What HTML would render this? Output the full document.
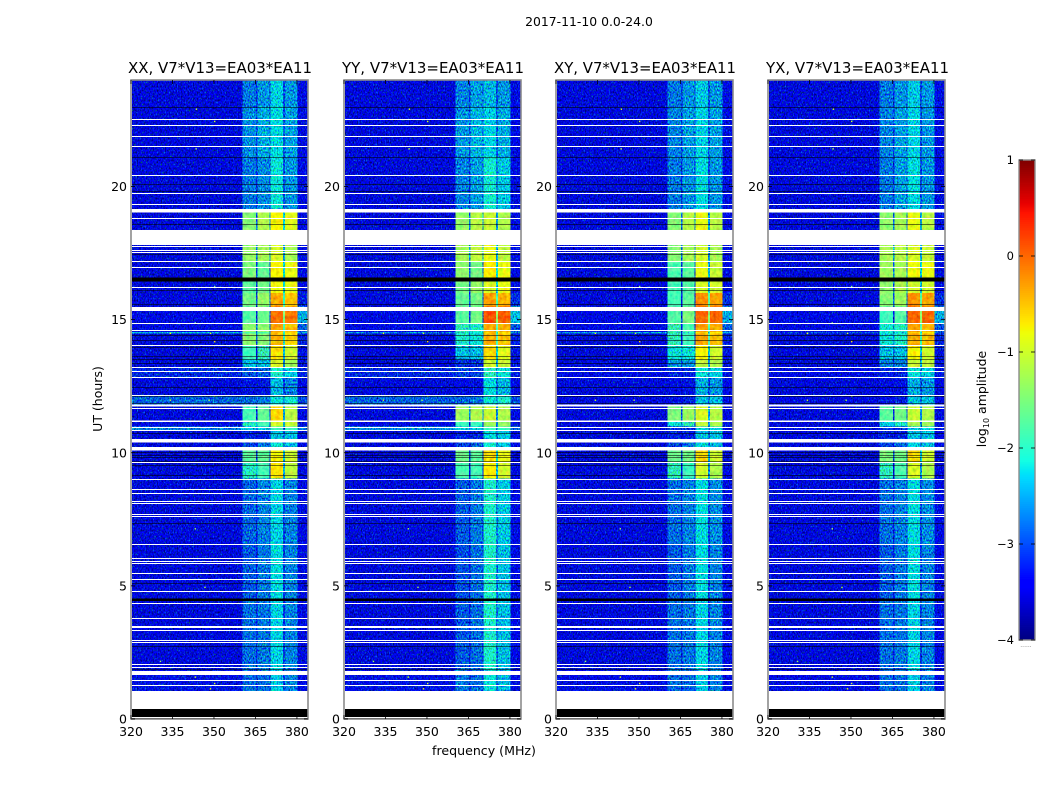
<!DOCTYPE html>
<html lang="en">
<head>
<meta charset="utf-8">
<title>2017-11-10 waterfall</title>
<style>
html,body{margin:0;padding:0;background:#fff;width:1050px;height:800px;overflow:hidden}
svg{display:block}
text{font-family:"DejaVu Sans","Liberation Sans",sans-serif;fill:#000}
</style>
</head>
<body>
<svg id="figure" width="1050" height="800" viewBox="0 0 1050 800" xmlns="http://www.w3.org/2000/svg">
  <defs>
    <filter id="speckle" x="0" y="0" width="100%" height="100%" color-interpolation-filters="sRGB">
      <feTurbulence type="fractalNoise" baseFrequency="0.75 0.5" numOctaves="2" seed="7" result="n"/>
      <feColorMatrix in="n" type="matrix" values="0 0 0 0 0.5  1 0 0 0 -0.03  0 1 0 0 -0.06  0 0 0 0 1" result="m"/>
      <feComposite in="SourceGraphic" in2="m" operator="arithmetic" k1="0" k2="1" k3="1.6" k4="-0.8" result="c"/>
      <feComposite in="c" in2="SourceAlpha" operator="in"/>
    </filter>
    <filter id="speckle-soft" x="0" y="0" width="100%" height="100%" color-interpolation-filters="sRGB">
      <feTurbulence type="fractalNoise" baseFrequency="0.3 0.25" numOctaves="2" seed="3" result="n"/>
      <feColorMatrix in="n" type="matrix" values="1 0 0 0 0  0 1 0 0 0  0 0 0 0 0.5  0 0 0 0 1" result="m"/>
      <feComposite in="SourceGraphic" in2="m" operator="arithmetic" k1="0" k2="1" k3="0.5" k4="-0.25" result="c"/>
      <feComposite in="c" in2="SourceAlpha" operator="in"/>
    </filter>
  </defs>
  <text x="589" y="26" font-size="12.4" text-anchor="middle">2017-11-10 0.0-24.0</text>
  <text x="484" y="755" font-size="12.6" text-anchor="middle">frequency (MHz)</text>
  <text x="0" y="0" font-size="12.5" text-anchor="middle" transform="translate(102 399) rotate(-90)">UT (hours)</text>
  <text x="0" y="0" font-size="12.5" text-anchor="middle" transform="translate(986 399) rotate(-90)">log<tspan font-size="8" dy="3">10</tspan><tspan dy="-3"> amplitude</tspan></text>
  <g id="panels"></g>
  <g id="colorbar"></g>
</svg>
<script>
// ---- chart data ----
const panelTitles = ["XX, V7*V13=EA03*EA11", "YY, V7*V13=EA03*EA11", "XY, V7*V13=EA03*EA11", "YX, V7*V13=EA03*EA11"];
const xTicks = [320, 335, 350, 365, 380];
const yTicks = [0, 5, 10, 15, 20];
const colorbarTicks = [-4, -3, -2, -1, 0, 1];
const colorbarLabels = ["\u22124", "\u22123", "\u22122", "\u22121", "0", "1"];
// frequency zones (MHz): bg, band1, gap, band2, gap, band3, gap, band4, tail
const freqEdges = [320.3, 360.4, 365.2, 365.7, 370, 370.5, 375, 375.6, 380.2, 384];
// time segments (UT hours), descending
const timeEdges = [24, 22.97, 21.10, 19.15, 18.37, 17.21, 16.5, 16.0, 15.5, 14.86, 14.53, 14.47, 14.03, 13.5, 13.2, 12.85, 12.13, 11.82, 11.22, 10.98, 10.85, 10.52, 10.08, 9.64, 9.03, 6.56, 4.5, 1.89, 1.06, 0];
// log10 amplitude per time segment: [background, band1, band2, band3, band4, tail]
const levelsXX = [
[-3.5,-2.75,-2.6,-2.3,-2.6,-3.35],[-3.5,-2.65,-2.5,-2.25,-2.55,-3.35],[-3.5,-2.75,-2.65,-2.2,-2.6,-3.35],
[-3.5,-1.45,-1.2,-0.75,-0.9,-3.35],[-3.5,-1.35,-1.25,-0.95,-1.25,-3.35],[-3.5,-1.5,-1.65,-0.75,-0.85,-3.35],
[-3.5,-1.7,-1.55,-0.8,-0.85,-3.35],[-3.5,-1.55,-1.35,-0.35,-0.5,-3.2],[-3.4,-1.75,-1.6,-0.05,-0.1,-2.5],
[-3.4,-1.4,-1.4,-0.3,-0.45,-2.9],[-2.5,-1.8,-1.8,-0.5,-0.6,-2.6],[-3.5,-1.4,-1.45,-0.4,-0.6,-3.2],
[-3.5,-1.9,-1.95,-0.65,-1.0,-3.3],[-3.5,-2.4,-2.4,-0.95,-1.25,-3.3],[-3.15,-2.9,-2.9,-2.1,-2.3,-3.2],
[-3.5,-3.3,-3.25,-2.45,-2.7,-3.4],[-2.85,-2.8,-2.7,-2.2,-2.15,-2.95],[-3.5,-1.85,-1.65,-0.6,-1.15,-3.4],
[-3.45,-2.05,-1.85,-1.0,-1.05,-3.3],[-2.7,-2.4,-2.4,-1.9,-1.9,-2.8],[-3.5,-3.2,-3.2,-2.4,-2.4,-3.4],
[-3.5,-3.0,-2.75,-2.2,-2.4,-3.4],[-3.5,-1.7,-1.65,-0.75,-1.0,-3.4],[-3.5,-2.05,-1.85,-0.65,-1.1,-3.4],
[-3.5,-2.85,-2.7,-2.3,-2.7,-3.45],[-3.5,-2.9,-2.75,-2.25,-2.7,-3.45],[-3.5,-2.8,-2.75,-2.3,-2.7,-3.45],
[-3.3,-2.8,-2.8,-2.35,-2.7,-3.4],[-3.5,-2.8,-2.8,-2.35,-2.7,-3.4]];
const levelsYY = [
[-3.5,-2.7,-2.55,-2.45,-2.6,-3.4],[-3.5,-2.6,-2.45,-2.3,-2.5,-3.4],[-3.5,-2.7,-2.55,-2.15,-2.35,-3.35],
[-3.5,-1.35,-1.15,-1.05,-1.2,-3.35],[-3.5,-1.25,-1.1,-0.85,-1.1,-3.35],[-3.5,-1.4,-1.55,-0.7,-0.85,-3.35],
[-3.5,-1.55,-1.35,-0.95,-0.85,-3.35],[-3.5,-1.65,-1.55,-0.3,-0.4,-3.1],[-3.4,-1.7,-1.55,0.1,0.05,-2.4],
[-3.4,-2.0,-2.1,-0.35,-0.4,-2.9],[-2.7,-2.1,-2.2,-0.5,-0.6,-2.8],[-3.5,-2.1,-2.2,-0.4,-0.5,-3.2],
[-3.5,-2.4,-2.4,-0.6,-0.9,-3.3],[-3.5,-3.1,-3.1,-1.0,-1.05,-3.3],[-3.15,-3.0,-3.0,-2.0,-2.2,-3.2],
[-3.5,-3.35,-3.3,-2.25,-2.45,-3.4],[-2.85,-2.85,-2.75,-2.2,-2.1,-2.95],[-3.5,-1.3,-1.2,-1.05,-1.2,-3.4],
[-3.45,-1.9,-1.9,-1.3,-1.35,-3.3],[-2.65,-2.4,-2.4,-1.9,-1.9,-2.8],[-3.5,-3.2,-3.2,-2.25,-2.35,-3.4],
[-3.5,-3.0,-2.85,-2.15,-2.35,-3.4],[-3.5,-1.6,-1.7,-0.65,-0.85,-3.4],[-3.5,-1.8,-1.85,-0.7,-1.0,-3.4],
[-3.5,-2.9,-2.75,-2.1,-2.35,-3.45],[-3.5,-2.95,-2.8,-2.1,-2.4,-3.45],[-3.5,-2.9,-2.8,-2.1,-2.4,-3.45],
[-3.3,-2.75,-2.8,-2.2,-2.45,-3.4],[-3.5,-2.8,-2.8,-2.25,-2.45,-3.4]];
const levelsXY = [
[-3.5,-2.75,-2.6,-2.35,-2.6,-3.35],[-3.5,-2.7,-2.55,-2.3,-2.55,-3.35],[-3.5,-2.75,-2.6,-2.25,-2.6,-3.35],
[-3.5,-1.45,-1.15,-0.85,-1.15,-3.35],[-3.5,-1.45,-1.25,-1.0,-1.25,-3.35],[-3.5,-1.8,-1.7,-0.85,-1.05,-3.35],
[-3.5,-1.85,-1.75,-0.95,-1.0,-3.35],[-3.5,-1.85,-1.7,-0.2,-0.3,-3.1],[-3.4,-1.75,-1.5,0.0,0.0,-2.5],
[-3.4,-1.95,-1.8,-0.3,-0.4,-2.9],[-2.6,-2.0,-2.0,-0.6,-0.7,-2.6],[-3.5,-2.0,-1.9,-0.35,-0.45,-3.2],
[-3.5,-2.2,-2.2,-0.75,-1.0,-3.3],[-3.5,-2.6,-2.6,-1.1,-1.2,-3.3],[-3.4,-3.2,-3.2,-2.2,-2.3,-3.3],
[-3.5,-3.35,-3.3,-2.5,-2.6,-3.4],[-3.45,-3.3,-3.2,-2.4,-2.4,-3.4],[-3.5,-1.5,-1.3,-0.95,-1.15,-3.4],
[-3.5,-2.2,-2.0,-1.1,-1.2,-3.3],[-3.4,-3.1,-3.1,-2.3,-2.3,-3.3],[-3.5,-3.2,-3.2,-2.4,-2.4,-3.4],
[-3.5,-3.0,-2.75,-2.25,-2.45,-3.4],[-3.5,-1.6,-1.55,-0.6,-1.0,-3.4],[-3.5,-2.0,-1.9,-1.0,-1.2,-3.4],
[-3.5,-2.8,-2.7,-2.25,-2.65,-3.45],[-3.5,-2.9,-2.75,-2.25,-2.7,-3.45],[-3.5,-2.8,-2.75,-2.3,-2.7,-3.45],
[-3.35,-2.8,-2.8,-2.35,-2.7,-3.4],[-3.5,-2.8,-2.8,-2.35,-2.7,-3.4]];
const levelsYX = [
[-3.5,-2.75,-2.6,-2.35,-2.6,-3.35],[-3.5,-2.7,-2.55,-2.3,-2.6,-3.35],[-3.5,-2.75,-2.55,-2.25,-2.6,-3.35],
[-3.5,-1.4,-1.25,-0.85,-1.15,-3.35],[-3.5,-1.25,-1.15,-0.95,-1.05,-3.35],[-3.5,-1.3,-1.25,-0.8,-0.85,-3.35],
[-3.5,-1.4,-1.2,-1.0,-1.0,-3.35],[-3.5,-1.45,-1.3,-0.2,-0.3,-3.1],[-3.4,-1.9,-1.75,0.0,0.0,-2.5],
[-3.4,-2.15,-2.05,-0.3,-0.4,-2.9],[-3.0,-2.2,-2.2,-0.6,-0.7,-2.9],[-3.5,-2.2,-2.1,-0.35,-0.45,-3.2],
[-3.5,-2.4,-2.4,-0.75,-1.0,-3.3],[-3.5,-2.7,-2.7,-1.05,-1.1,-3.3],[-3.4,-3.2,-3.2,-2.2,-2.3,-3.3],
[-3.5,-3.35,-3.3,-2.5,-2.6,-3.4],[-3.45,-3.3,-3.2,-2.4,-2.4,-3.4],[-3.5,-1.7,-1.55,-1.05,-1.2,-3.4],
[-3.5,-2.3,-2.1,-1.25,-1.3,-3.3],[-3.4,-3.1,-3.1,-2.3,-2.3,-3.3],[-3.5,-3.2,-3.2,-2.4,-2.4,-3.4],
[-3.5,-3.0,-2.8,-2.3,-2.45,-3.4],[-3.5,-1.5,-1.55,-0.6,-1.0,-3.4],[-3.5,-2.0,-1.8,-0.95,-1.2,-3.4],
[-3.5,-2.8,-2.7,-2.25,-2.65,-3.45],[-3.5,-2.9,-2.75,-2.25,-2.7,-3.45],[-3.5,-2.8,-2.75,-2.3,-2.7,-3.45],
[-3.35,-2.8,-2.8,-2.35,-2.7,-3.4],[-3.5,-2.8,-2.8,-2.35,-2.7,-3.4]];
const panelLevels = [levelsXX, levelsYY, levelsXY, levelsYX];
// isolated bright samples: frequency (MHz), UT (hours)
const hotFreqs = [343.4, 350, 343.3, 350, 334, 348.5, 350, 343, 350, 334, 348, 343, 346.5, 330.4, 343, 350, 348.5];
const hotTimes = [22.93, 22.47, 21.44, 16.27, 14.51, 14.51, 14.2, 14.9, 12.15, 12.0, 12.0, 7.17, 4.97, 2.19, 1.6, 1.36, 1.16];
const hotLevels = [-1.0, -1.0, -1.2, -1.5, -0.8, -1.0, -0.6, -1.5, -1.0, -1.0, -1.2, -1.3, -1.2, -1.3, -1.0, -1.0, -0.8];
// flagged (blank) integrations, UT hours
const blankLines = [22.54, 22.30, 21.91, 21.53, 20.42, 19.74, 19.35, 18.83, 17.77, 17.63, 17.53, 17.21, 16.99, 16.24, 14.86, 14.61, 14.03, 13.21, 13.06, 12.85, 12.18, 11.67, 10.98, 10.85, 10.23, 9.64, 9.03, 8.65, 8.48, 8.20, 8.10, 7.69, 7.62, 6.56, 6.06, 5.95, 5.86, 5.47, 5.26, 4.80, 4.35, 3.78, 3.50, 3.44, 3.34, 2.97, 2.88, 2.05, 1.96, 1.46, 1.28];
const blankBandStart = [19.15, 18.37, 15.48, 11.82, 11.22, 10.52, 10.18, 1.81, 1.06];
const blankBandEnd = [19.03, 17.80, 15.32, 11.74, 11.15, 10.38, 10.08, 1.65, 0.38];
// zero-amplitude integrations, UT hours
const darkLines = [22.97, 21.10, 20.11, 19.83, 18.60, 17.46, 16.10, 15.59, 14.43, 14.23, 13.98, 13.65, 13.52, 13.36, 12.46, 12.13, 11.88, 10.73, 10.01, 9.93, 9.85, 9.70, 9.53, 9.15, 7.35, 5.10, 2.76, 1.89];
const darkBandStart = [16.58, 4.52, 0.38];
const darkBandEnd = [16.43, 4.44, 0.0];
const baselineBlank = [0.06];
const titleLengths = [184, 182, 182, 183];

// ---- axes ----
const SVGNS = "http://www.w3.org/2000/svg";
const panelLeft = [131, 344, 556, 768];
const titleOffset = [-3, -2, -2, -2];
const panelWidth = 177;
const plotTop = 80, plotBottom = 719;
const xMin = 320, xMax = 384, yMin = 0, yMax = 24;
function xScale(p, f) { return panelLeft[p] + (f - xMin) / (xMax - xMin) * panelWidth; }
function yScale(t) { return plotBottom - (t - yMin) / (yMax - yMin) * (plotBottom - plotTop); }
const cbLeft = 1019, cbWidth = 16, cbTop = 160, cbBottom = 640;
function cbScale(v) { return cbBottom - (v + 4) / 5 * (cbBottom - cbTop); }

function ramp(t, pts) {
  for (let i = 1; i < pts.length; i++) {
    if (t <= pts[i][0]) {
      const a = pts[i - 1], b = pts[i];
      return a[1] + (b[1] - a[1]) * (t - a[0]) / (b[0] - a[0]);
    }
  }
  return pts[pts.length - 1][1];
}
function jet(v) {
  const t = Math.max(0, Math.min(1, (v + 4) / 5));
  const r = ramp(t, [[0, 0], [0.35, 0], [0.66, 1], [0.89, 1], [1, 0.5]]);
  const g = ramp(t, [[0, 0], [0.125, 0], [0.375, 1], [0.64, 1], [0.91, 0], [1, 0]]);
  const b = ramp(t, [[0, 0.5], [0.11, 1], [0.34, 1], [0.65, 0], [1, 0]]);
  return "rgb(" + Math.round(r * 255) + "," + Math.round(g * 255) + "," + Math.round(b * 255) + ")";
}
function make(parent, tag, attrs) {
  const el = document.createElementNS(SVGNS, tag);
  for (const k in attrs) el.setAttribute(k, attrs[k]);
  parent.appendChild(el);
  return el;
}
function gapLevel(bg, l, r) {
  const m = Math.min(l, r);
  return Math.max(bg, m - (m < -2 ? 0.35 : 1.4));
}
function zoneLevels(row) {
  const [bg, b1, b2, b3, b4, tail] = row;
  return [bg, b1, gapLevel(bg, b1, b2), b2, gapLevel(bg, b2, b3), b3, gapLevel(bg, b3, b4), b4, tail];
}

const panelsRoot = document.getElementById("panels");
panelTitles.forEach(function (title, p) {
  const g = make(panelsRoot, "g", {});
  
  

  make(g, "rect", { x: panelLeft[p], y: plotTop, width: panelWidth, height: plotBottom - plotTop, fill: "#fff" });

  const quietCells = make(g, "g", { filter: "url(#speckle)" });
  
  
  const activeCells = make(g, "g", { filter: "url(#speckle-soft)" });
  
  
  panelLevels[p].forEach(function (row, i) {
    const y0 = yScale(timeEdges[i]), y1 = yScale(timeEdges[i + 1]);
    zoneLevels(row).forEach(function (lv, z) {
      const x0 = xScale(p, freqEdges[z]), x1 = xScale(p, freqEdges[z + 1]);
      const c = make(lv > -1.95 ? activeCells : quietCells, "rect", { x: x0, y: y0, width: x1 - x0, height: y1 - y0, fill: jet(lv), "shape-rendering": "crispEdges" });
      
      
    });
  });

  hotFreqs.forEach(function (f, i) {
    const h = make(g, "rect", { x: xScale(p, f), y: yScale(hotTimes[i]), width: 1.4, height: 1.4, fill: jet(hotLevels[i]) });
    
    
  });

  const x0 = xScale(p, freqEdges[0]), x1 = xScale(p, freqEdges[freqEdges.length - 1]);
  darkLines.forEach(function (t) {
    const d = make(g, "rect", { x: x0, y: Math.round(yScale(t)), width: x1 - x0, height: 1, fill: "#000", "fill-opacity": 0.55, "shape-rendering": "crispEdges" });
    
    
  });
  darkBandStart.forEach(function (t, i) {
    const d = make(g, "rect", { x: x0, y: yScale(t), width: x1 - x0, height: yScale(darkBandEnd[i]) - yScale(t), fill: "#000", "shape-rendering": "crispEdges" });
    
    
  });
  blankLines.concat(baselineBlank).forEach(function (t) {
    const w = make(g, "rect", { x: x0, y: Math.round(yScale(t)), width: x1 - x0, height: 1, fill: "#fff", "shape-rendering": "crispEdges" });
    
    
  });
  blankBandStart.forEach(function (t, i) {
    const w = make(g, "rect", { x: x0, y: yScale(t), width: x1 - x0, height: yScale(blankBandEnd[i]) - yScale(t), fill: "#fff", "shape-rendering": "crispEdges" });
    
    
  });

  const frame = make(g, "rect", { x: panelLeft[p], y: plotTop, width: panelWidth, height: plotBottom - plotTop, fill: "none", stroke: "#8c8c8c", "stroke-width": 1.6 });
  
  

  xTicks.forEach(function (f) {
    const x = xScale(p, f);
    const t1 = make(g, "line", { x1: x, x2: x, y1: plotBottom, y2: plotBottom - 4, stroke: "#000", "stroke-width": 0.8 });
    
    
    const t2 = make(g, "line", { x1: x, x2: x, y1: plotTop, y2: plotTop + 4, stroke: "#000", "stroke-width": 0.8 });
    
    
    const lab = make(g, "text", { x: x, y: plotBottom + 17, "font-size": 12.5, "text-anchor": "middle" });
    lab.textContent = String(f);
    
    
  });
  yTicks.forEach(function (u) {
    const y = yScale(u), xl = panelLeft[p], xr = xl + panelWidth;
    const t1 = make(g, "line", { x1: xl, x2: xl + 4, y1: y, y2: y, stroke: "#000", "stroke-width": 0.8 });
    
    
    const t2 = make(g, "line", { x1: xr, x2: xr - 4, y1: y, y2: y, stroke: "#000", "stroke-width": 0.8 });
    
    
    const lab = make(g, "text", { x: xl - 4, y: y + 4.5, "font-size": 12.5, "text-anchor": "end" });
    lab.textContent = String(u);
    
    
  });

  const ttl = make(g, "text", { x: panelLeft[p] + titleOffset[p], y: plotTop - 7, "font-size": 15, textLength: titleLengths[p], lengthAdjust: "spacingAndGlyphs" });
  ttl.textContent = title;
  
  
});

// ---- colorbar ----
const cb = document.getElementById("colorbar");
for (let v = -4; v < 1; v += 0.02) {
  const s = make(cb, "rect", { x: cbLeft, y: cbScale(v + 0.02), width: cbWidth, height: cbScale(v) - cbScale(v + 0.02) + 0.4, fill: jet(v + 0.01) });
  
  
}
const cbFrame = make(cb, "rect", { x: cbLeft, y: cbTop, width: cbWidth, height: cbBottom - cbTop, fill: "none", stroke: "#8c8c8c", "stroke-width": 1.4 });


colorbarTicks.forEach(function (v, i) {
  const y = cbScale(v);
  const t1 = make(cb, "line", { x1: cbLeft, x2: cbLeft + 4, y1: y, y2: y, stroke: "#000", "stroke-width": 0.8 });
  
  
  const t2 = make(cb, "line", { x1: cbLeft + cbWidth, x2: cbLeft + cbWidth - 4, y1: y, y2: y, stroke: "#000", "stroke-width": 0.8 });
  
  
  const lab = make(cb, "text", { x: cbLeft - 5, y: y + 4, "font-size": 11.5, "text-anchor": "end" });
  lab.textContent = colorbarLabels[i];
  
  
});
const dots = make(cb, "text", { x: cbLeft + cbWidth / 2 - 1, y: cbBottom + 7, "font-size": 6, "text-anchor": "middle", style: "fill:#777" });
dots.textContent = "......";


</script>
</body>
</html>
